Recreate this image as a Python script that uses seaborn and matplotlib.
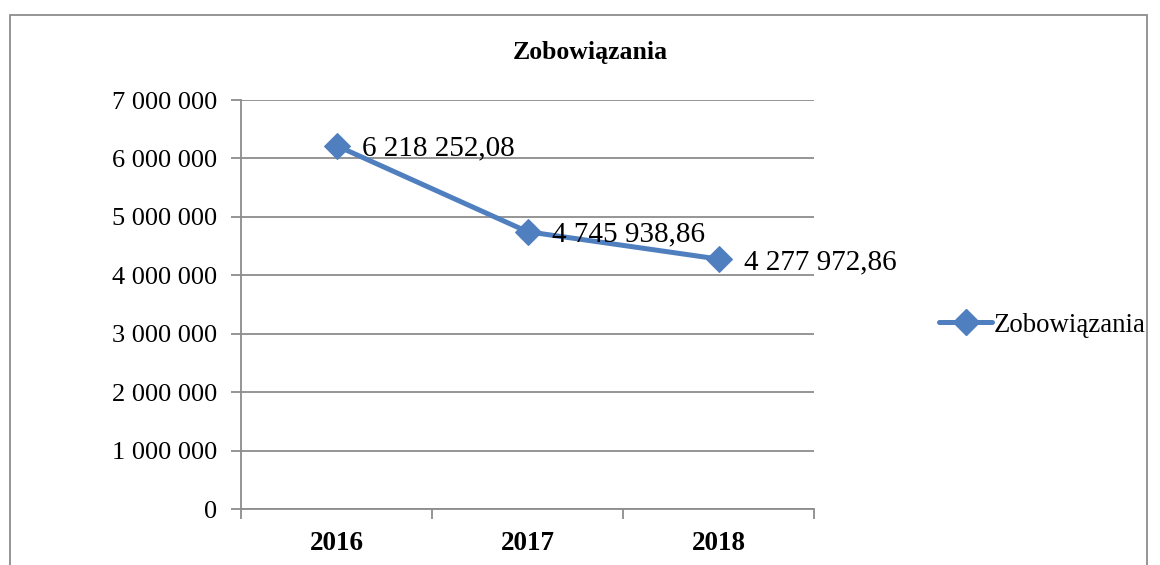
import matplotlib
matplotlib.use("Agg")
import matplotlib.pyplot as plt
import seaborn as sns
import pandas as pd
from matplotlib.patches import Rectangle
from matplotlib.lines import Line2D
from matplotlib.ticker import FuncFormatter

# dane
years = ["2016", "2017", "2018"]
values = [6218252.08, 4745938.86, 4277972.86]
labels = ["6 218 252,08", "4 745 938,86", "4 277 972,86"]
series_name = "Zobowiązania"

df = pd.DataFrame({"rok": years, "wartosc": values})

sns.set_theme(style="white")
plt.rcParams["font.family"] = ["Liberation Serif", "DejaVu Serif"]
plt.rcParams["text.color"] = "black"
plt.rcParams["xtick.color"] = "black"
plt.rcParams["ytick.color"] = "black"

blue = "#4F7FBE"
grey = "#8C8C8C"

fig = plt.figure(figsize=(11.6, 5.65), dpi=100)
ax = fig.add_axes([241 / 1160, 1 - 509 / 565, (814 - 241) / 1160, (509 - 100) / 565])

sns.lineplot(data=df, x="rok", y="wartosc", ax=ax, color=blue, linewidth=3.6,
             marker="D", markersize=13, markeredgecolor=blue, sort=False)

for i, (v, t) in enumerate(zip(values, labels)):
    ax.annotate(t, (i, v), xytext=(18, 0), textcoords="offset points",
                ha="left", va="center_baseline", fontsize=21, color="black")

ax.set_xlim(-0.5, 2.5)
ax.set_ylim(0, 7000000)
ax.set_yticks(range(0, 7000001, 1000000))
ax.yaxis.set_major_formatter(FuncFormatter(lambda v, p: f"{int(v):,}".replace(",", " ")))
ax.set_xticks(range(len(years)))
ax.set_xticklabels(years, fontweight="bold")
ax.set_xticks([-0.5, 0.5, 1.5, 2.5], minor=True)
ax.tick_params(axis="x", which="major", length=0, pad=16, labelsize=19.5, labelcolor="black")
ax.tick_params(axis="x", which="minor", length=7, width=1.3, color=grey, direction="out", bottom=True)
ax.tick_params(axis="y", length=7, width=1.3, color=grey, direction="out", left=True,
               labelsize=19, pad=10, labelcolor="black")
ax.set_xlabel("")
ax.set_ylabel("")
ax.grid(axis="y", color=grey, linewidth=1.3)
ax.set_axisbelow(True)
for s in ["top", "right"]:
    ax.spines[s].set_visible(False)
for s in ["left", "bottom"]:
    ax.spines[s].set_color(grey)
    ax.spines[s].set_linewidth(1.3)

fig.text(590 / 1160, 1 - 53 / 565, series_name, ha="center", va="center",
         fontsize=18.5, fontweight="bold", color="black")

handle = Line2D([], [], color=blue, linewidth=3.6, marker="D", markersize=13)
fig.legend([handle], [series_name], loc="center left",
           bbox_to_anchor=(928 / 1160, 1 - 325 / 565), frameon=False,
           fontsize=19.3, handlelength=2.0, handletextpad=0.05, borderaxespad=0)

fig.patches.append(Rectangle((10 / 1160, -0.05), (1147 - 10) / 1160, 1.05 - 15 / 565,
                             transform=fig.transFigure, fill=False,
                             edgecolor=grey, linewidth=1.3))

fig.savefig("out.png", dpi=100)
